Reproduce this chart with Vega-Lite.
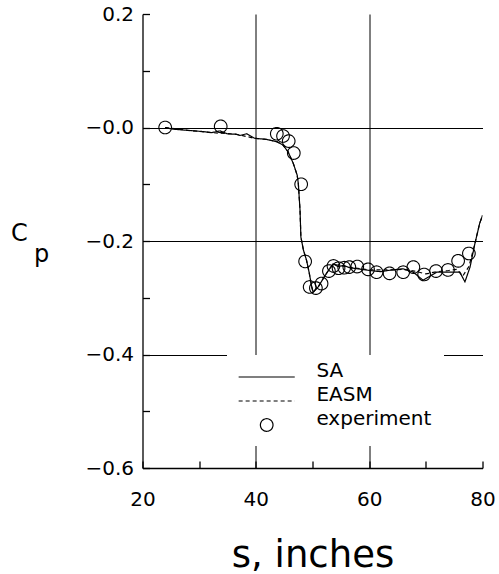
{
  "$schema": "https://vega.github.io/schema/vega-lite/v6.json",
  "autosize": "none",
  "padding": {"left": 142.5, "top": 14, "right": 16.5, "bottom": 106},
  "width": 340,
  "height": 454,
  "background": "white",
  "datasets": {
    "curves": [
      {"s": 24.0, "cp": 0.000, "series": "SA"},
      {"s": 25.4, "cp": -0.003, "series": "SA"},
      {"s": 28.0, "cp": -0.005, "series": "SA"},
      {"s": 30.5, "cp": -0.007, "series": "SA"},
      {"s": 32.2, "cp": -0.009, "series": "SA"},
      {"s": 33.7, "cp": -0.006, "series": "SA"},
      {"s": 34.9, "cp": -0.011, "series": "SA"},
      {"s": 36.6, "cp": -0.012, "series": "SA"},
      {"s": 37.2, "cp": -0.014, "series": "SA"},
      {"s": 38.4, "cp": -0.011, "series": "SA"},
      {"s": 39.8, "cp": -0.019, "series": "SA"},
      {"s": 41.9, "cp": -0.021, "series": "SA"},
      {"s": 43.7, "cp": -0.025, "series": "SA"},
      {"s": 44.8, "cp": -0.031, "series": "SA"},
      {"s": 45.7, "cp": -0.043, "series": "SA"},
      {"s": 46.6, "cp": -0.063, "series": "SA"},
      {"s": 47.3, "cp": -0.084, "series": "SA"},
      {"s": 47.5, "cp": -0.099, "series": "SA"},
      {"s": 47.8, "cp": -0.146, "series": "SA"},
      {"s": 47.95, "cp": -0.193, "series": "SA"},
      {"s": 48.4, "cp": -0.216, "series": "SA"},
      {"s": 48.95, "cp": -0.234, "series": "SA"},
      {"s": 49.4, "cp": -0.255, "series": "SA"},
      {"s": 49.85, "cp": -0.280, "series": "SA"},
      {"s": 50.1, "cp": -0.290, "series": "SA"},
      {"s": 51.0, "cp": -0.281, "series": "SA"},
      {"s": 51.9, "cp": -0.266, "series": "SA"},
      {"s": 52.8, "cp": -0.252, "series": "SA"},
      {"s": 53.65, "cp": -0.240, "series": "SA"},
      {"s": 54.5, "cp": -0.245, "series": "SA"},
      {"s": 55.5, "cp": -0.243, "series": "SA"},
      {"s": 56.5, "cp": -0.247, "series": "SA"},
      {"s": 58.0, "cp": -0.249, "series": "SA"},
      {"s": 60.1, "cp": -0.252, "series": "SA"},
      {"s": 62.0, "cp": -0.254, "series": "SA"},
      {"s": 64.0, "cp": -0.251, "series": "SA"},
      {"s": 66.0, "cp": -0.249, "series": "SA"},
      {"s": 67.8, "cp": -0.255, "series": "SA"},
      {"s": 69.5, "cp": -0.269, "series": "SA"},
      {"s": 70.7, "cp": -0.262, "series": "SA"},
      {"s": 71.9, "cp": -0.255, "series": "SA"},
      {"s": 74.2, "cp": -0.255, "series": "SA"},
      {"s": 76.0, "cp": -0.255, "series": "SA"},
      {"s": 76.9, "cp": -0.272, "series": "SA"},
      {"s": 77.8, "cp": -0.246, "series": "SA"},
      {"s": 78.65, "cp": -0.205, "series": "SA"},
      {"s": 79.5, "cp": -0.169, "series": "SA"},
      {"s": 80.0, "cp": -0.155, "series": "SA"},
      {"s": 24.0, "cp": 0.000, "series": "EASM"},
      {"s": 28.0, "cp": -0.005, "series": "EASM"},
      {"s": 32.2, "cp": -0.009, "series": "EASM"},
      {"s": 36.6, "cp": -0.012, "series": "EASM"},
      {"s": 39.8, "cp": -0.019, "series": "EASM"},
      {"s": 41.9, "cp": -0.021, "series": "EASM"},
      {"s": 43.7, "cp": -0.025, "series": "EASM"},
      {"s": 44.8, "cp": -0.031, "series": "EASM"},
      {"s": 45.7, "cp": -0.043, "series": "EASM"},
      {"s": 46.6, "cp": -0.063, "series": "EASM"},
      {"s": 47.3, "cp": -0.084, "series": "EASM"},
      {"s": 47.5, "cp": -0.099, "series": "EASM"},
      {"s": 47.8, "cp": -0.146, "series": "EASM"},
      {"s": 47.95, "cp": -0.193, "series": "EASM"},
      {"s": 48.4, "cp": -0.216, "series": "EASM"},
      {"s": 48.95, "cp": -0.234, "series": "EASM"},
      {"s": 49.4, "cp": -0.255, "series": "EASM"},
      {"s": 49.85, "cp": -0.280, "series": "EASM"},
      {"s": 50.1, "cp": -0.290, "series": "EASM"},
      {"s": 51.0, "cp": -0.281, "series": "EASM"},
      {"s": 51.9, "cp": -0.266, "series": "EASM"},
      {"s": 52.8, "cp": -0.252, "series": "EASM"},
      {"s": 53.65, "cp": -0.241, "series": "EASM"},
      {"s": 56.5, "cp": -0.246, "series": "EASM"},
      {"s": 60.1, "cp": -0.251, "series": "EASM"},
      {"s": 64.0, "cp": -0.251, "series": "EASM"},
      {"s": 66.0, "cp": -0.250, "series": "EASM"},
      {"s": 68.0, "cp": -0.253, "series": "EASM"},
      {"s": 70.0, "cp": -0.258, "series": "EASM"},
      {"s": 72.0, "cp": -0.254, "series": "EASM"},
      {"s": 74.0, "cp": -0.252, "series": "EASM"},
      {"s": 75.5, "cp": -0.250, "series": "EASM"},
      {"s": 76.5, "cp": -0.262, "series": "EASM"},
      {"s": 77.6, "cp": -0.245, "series": "EASM"},
      {"s": 78.65, "cp": -0.205, "series": "EASM"},
      {"s": 79.5, "cp": -0.169, "series": "EASM"},
      {"s": 80.0, "cp": -0.155, "series": "EASM"}
    ],
    "experiment": [
      {"s": 24.0, "cp": 0.000, "series": "experiment"},
      {"s": 33.8, "cp": 0.002, "series": "experiment"},
      {"s": 43.7, "cp": -0.011, "series": "experiment"},
      {"s": 44.8, "cp": -0.015, "series": "experiment"},
      {"s": 45.8, "cp": -0.024, "series": "experiment"},
      {"s": 46.7, "cp": -0.045, "series": "experiment"},
      {"s": 48.0, "cp": -0.100, "series": "experiment"},
      {"s": 48.7, "cp": -0.236, "series": "experiment"},
      {"s": 49.5, "cp": -0.281, "series": "experiment"},
      {"s": 50.6, "cp": -0.283, "series": "experiment"},
      {"s": 51.6, "cp": -0.275, "series": "experiment"},
      {"s": 52.9, "cp": -0.253, "series": "experiment"},
      {"s": 53.7, "cp": -0.244, "series": "experiment"},
      {"s": 54.6, "cp": -0.248, "series": "experiment"},
      {"s": 55.6, "cp": -0.247, "series": "experiment"},
      {"s": 56.5, "cp": -0.246, "series": "experiment"},
      {"s": 57.9, "cp": -0.245, "series": "experiment"},
      {"s": 59.8, "cp": -0.250, "series": "experiment"},
      {"s": 61.3, "cp": -0.255, "series": "experiment"},
      {"s": 63.6, "cp": -0.257, "series": "experiment"},
      {"s": 66.0, "cp": -0.255, "series": "experiment"},
      {"s": 67.8, "cp": -0.246, "series": "experiment"},
      {"s": 69.7, "cp": -0.259, "series": "experiment"},
      {"s": 71.8, "cp": -0.253, "series": "experiment"},
      {"s": 73.9, "cp": -0.251, "series": "experiment"},
      {"s": 75.7, "cp": -0.235, "series": "experiment"},
      {"s": 77.6, "cp": -0.222, "series": "experiment"}
    ]
  },
  "encoding": {
    "x": {
      "field": "s", "type": "quantitative",
      "scale": {"domain": [20, 80], "nice": false, "zero": false},
      "axis": {
        "values": [20, 30, 40, 50, 60, 70, 80],
        "labelExpr": "datum.value % 20 == 0 ? datum.label : ''",
        "title": "s, inches",
        "titleFontSize": 37,
        "titleY": 98,
        "titleBaseline": "alphabetic",
        "labelPadding": 28,
        "gridOpacity": {"condition": {"test": "datum.value == 40 || datum.value == 60", "value": 1}, "value": 0}
      }
    },
    "y": {
      "field": "cp", "type": "quantitative",
      "scale": {"domain": [-0.6, 0.2], "nice": false, "zero": false},
      "axis": {
        "values": [0.2, 0.1, 0, -0.1, -0.2, -0.3, -0.4, -0.5, -0.6],
        "labelExpr": "abs(round(datum.value * 10)) % 2 == 0 ? (datum.value > 0.05 ? format(datum.value, '.1f') : '\u2212' + format(abs(datum.value), '.1f')) : ''",
        "title": ["C", "\u200b\u00a0\u00a0\u00a0p"],
        "titleAngle": 0,
        "titleAlign": "left",
        "titleBaseline": "alphabetic",
        "titleFontSize": 24,
        "titleLineHeight": 21,
        "titleX": -132,
        "titleY": 226.7,
        "labelPadding": 16,
        "gridOpacity": {"condition": {"test": "abs(datum.value) < 0.01 || abs(datum.value + 0.2) < 0.01 || abs(datum.value + 0.4) < 0.01", "value": 1}, "value": 0}
      }
    }
  },
  "layer": [
    {
      "data": {"name": "curves"},
      "mark": {"type": "line", "color": "black", "strokeWidth": 1.2, "clip": true},
      "encoding": {
        "strokeDash": {
          "field": "series", "type": "nominal",
          "scale": {"domain": ["SA", "EASM", "experiment"], "range": [[1, 0], [4, 3], [1, 0]]},
          "legend": {"title": null}
        }
      }
    },
    {
      "data": {"name": "experiment"},
      "mark": {"type": "point", "filled": false, "stroke": "black", "strokeWidth": 1.1, "opacity": 1, "size": 159},
      "encoding": {
        "shape": {
          "field": "series", "type": "nominal",
          "scale": {"domain": ["SA", "EASM", "experiment"], "range": ["M-4.45,0H4.45", "M-4.45,0H4.45", "circle"]},
          "legend": {"title": null}
        },
        "strokeDash": {"field": "series", "type": "nominal", "legend": {"title": null}}
      }
    }
  ],
  "config": {
    "font": "DejaVu Sans",
    "view": {"stroke": null},
    "axis": {
      "domainColor": "black",
      "domainWidth": 1.3,
      "tickColor": "black",
      "tickWidth": 1.3,
      "tickSize": -7,
      "grid": true,
      "gridColor": "black",
      "gridWidth": 1,
      "labelFont": "DejaVu Sans",
      "labelFontSize": 20,
      "labelColor": "black",
      "labelFlush": false,
      "labelOverlap": false,
      "titleFont": "DejaVu Sans",
      "titleFontWeight": "normal",
      "titleColor": "black"
    },
    "legend": {
      "orient": "none",
      "legendX": 84.5,
      "legendY": 341,
      "fillColor": "white",
      "strokeColor": null,
      "padding": 12,
      "symbolSize": 159,
      "symbolOffset": 17.7,
      "labelOffset": 39.7,
      "labelFont": "DejaVu Sans",
      "labelFontSize": 20,
      "labelColor": "black",
      "labelBaseline": "alphabetic",
      "rowPadding": 4,
      "symbolStrokeColor": "black",
      "symbolStrokeWidth": 1.2,
      "symbolFillColor": "transparent"
    }
  }
}
